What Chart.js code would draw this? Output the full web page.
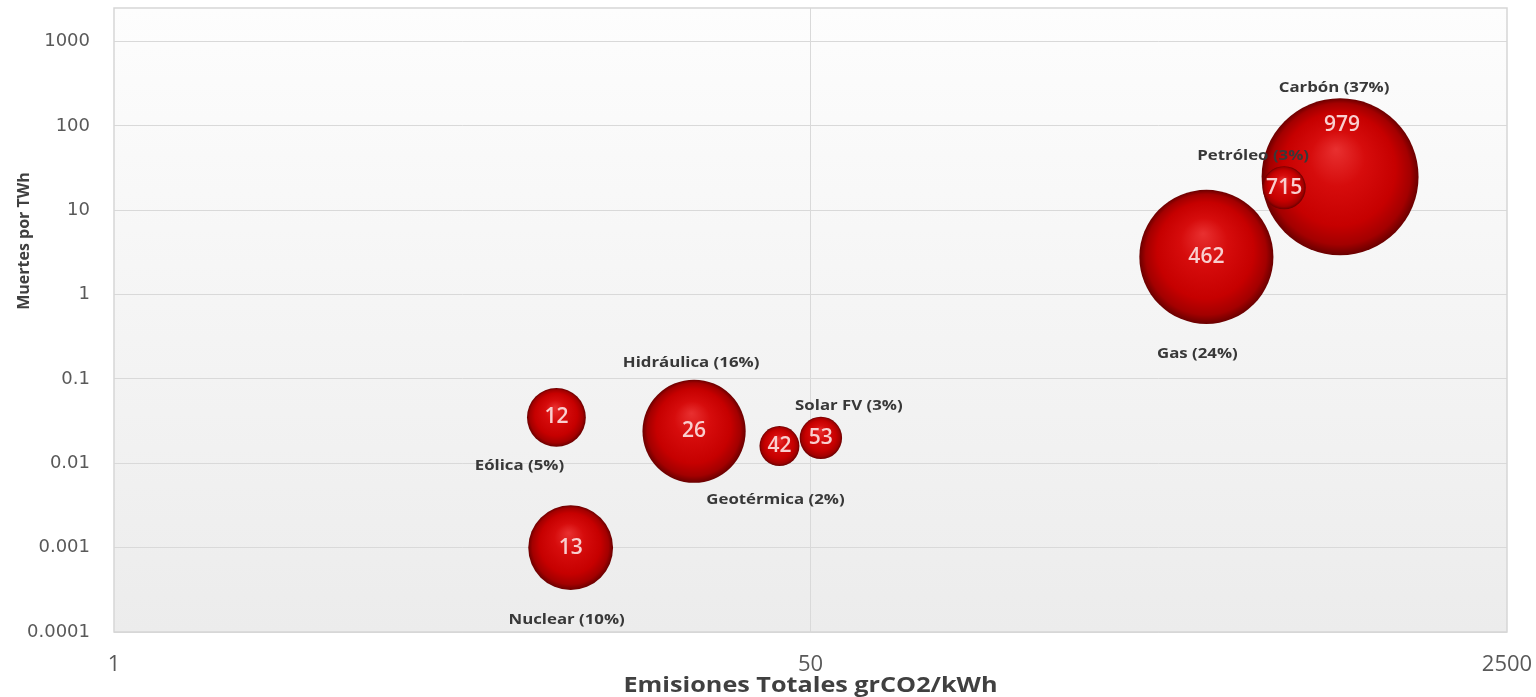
<!DOCTYPE html>
<html>
<head>
<meta charset="utf-8">
<script src="https://cdn.jsdelivr.net/npm/chart.js@4.4.1/dist/chart.umd.min.js"></script>
<style>
  body { margin: 0; background: #ffffff; }
  #wrap { width: 1536px; height: 697px; }
</style>
</head>
<body>
<div id="wrap"><canvas id="bubbles" width="1536" height="697"></canvas></div>
<script>
// data (Carbón before Petróleo so the small bubble sits on top)
const sources = ["Eólica", "Nuclear", "Hidráulica", "Geotérmica", "Solar FV", "Gas", "Carbón", "Petróleo"];
const emissions = [12, 13, 26, 42, 53, 462, 979, 715];          // grCO2/kWh (x)
const deaths = [0.035, 0.001, 0.024, 0.016, 0.02, 2.8, 25, 18.5]; // deaths per TWh (y)
const share = [5, 10, 16, 2, 3, 24, 37, 3];                       // % shown in the labels
const bubbleSize = [5.2, 10.8, 16, 2.4, 2.7, 27, 37, 2.8];       // bubble size values (area)

const yTicks = [0.0001, 0.001, 0.01, 0.1, 1, 10, 100, 1000];
const xTicks = [1, 50, 2500];

// label placement relative to the bubble centre (pixels)
const nameOffsets = [[-37, 48], [-4, 72], [-3, -69], [-4, 54], [28, -32], [-9, 97], [-6, -89], [-31, -32]];
const valueOffsets = [[0, 0], [0, 0], [0, 0], [0, 0], [0, 0], [0, 0], [2, -52], [0, 0]];

const SIZE_SCALE = 12.9;

function sphereFill(ctx) {
    const chart = ctx.chart;
    if (!chart.chartArea || ctx.dataIndex === undefined) return "#cc0000";
    const cx = chart.scales.x.getPixelForValue(emissions[ctx.dataIndex]);
    const cy = chart.scales.y.getPixelForValue(deaths[ctx.dataIndex]);
    const r = SIZE_SCALE * Math.sqrt(bubbleSize[ctx.dataIndex]);
    const g = chart.ctx.createRadialGradient(cx - 0.05 * r, cy - 0.35 * r, 0, cx, cy, r);
    g.addColorStop(0, "#e83030");
    g.addColorStop(0.35, "#d60c0c");
    g.addColorStop(0.72, "#c60000");
    g.addColorStop(0.9, "#a30000");
    g.addColorStop(1, "#6a0000");
    return g;
}

// plot background gradient + frame + axis titles
const plotBackground = {
    id: "plotBackground",
    beforeDraw(chart) {
        const { ctx, chartArea: a } = chart;
        const g = ctx.createLinearGradient(0, a.top, 0, a.bottom);
        g.addColorStop(0, "#fdfdfd");
        g.addColorStop(1, "#ececec");
        ctx.save();
        ctx.fillStyle = g;
        ctx.fillRect(a.left, a.top, a.right - a.left, a.bottom - a.top);
        ctx.restore();
    },
    afterDraw(chart) {
        const { ctx, chartArea: a } = chart;
        ctx.save();
        ctx.strokeStyle = "#d6d6d6";
        ctx.lineWidth = 1.5;
        ctx.strokeRect(a.left, a.top, a.right - a.left, a.bottom - a.top);

        ctx.fillStyle = "#404040";
        ctx.textAlign = "center";
        ctx.textBaseline = "middle";
        ctx.font = "bold 21px 'Open Sans'";
        ctx.save();
        ctx.translate((a.left + a.right) / 2, 686);
        ctx.scale(1.2, 1);
        ctx.fillText("Emisiones Totales grCO2/kWh", 0, 0);
        ctx.restore();
        ctx.font = "bold 16px 'Open Sans'";
        ctx.translate(24, 241);
        ctx.rotate(-Math.PI / 2);
        ctx.fillText("Muertes por TWh", 0, 0);
        ctx.restore();
    }
};

// names above/below bubbles and values inside
const bubbleLabels = {
    id: "bubbleLabels",
    afterDatasetsDraw(chart) {
        const { ctx } = chart;
        const meta = chart.getDatasetMeta(0);
        ctx.save();
        ctx.textAlign = "center";
        ctx.textBaseline = "middle";
        meta.data.forEach((pt, i) => {
            ctx.font = "600 21px 'Open Sans'";
            ctx.fillStyle = "#f9cfcf";
            ctx.fillText(String(emissions[i]), pt.x + valueOffsets[i][0], pt.y + valueOffsets[i][1]);
        });
        meta.data.forEach((pt, i) => {
            ctx.save();
            ctx.translate(pt.x + nameOffsets[i][0], pt.y + nameOffsets[i][1]);
            ctx.scale(1.12, 1);
            ctx.font = "bold 15px 'Open Sans'";
            ctx.fillStyle = "#383838";
            ctx.fillText(`${sources[i]} (${share[i]}%)`, 0, 0);
            ctx.restore();
        });
        ctx.restore();
    }
};

new Chart(document.getElementById("bubbles"), {
    type: "bubble",
    data: {
        datasets: [{
            label: "Fuentes",
            data: sources.map((s, i) => ({ x: emissions[i], y: deaths[i], r: SIZE_SCALE * Math.sqrt(bubbleSize[i]) })),
            backgroundColor: sphereFill,
            borderWidth: 0,
            hoverRadius: 0
        }]
    },
    options: {
        responsive: false,
        animation: false,
        layout: { autoPadding: false, padding: { left: 0, right: 29, top: 8, bottom: 0 } },
        plugins: {
            legend: { display: false },
            tooltip: { enabled: false }
        },
        scales: {
            x: {
                type: "logarithmic",
                min: 1,
                max: 2500,
                afterBuildTicks: (scale) => { scale.ticks = xTicks.map((v) => ({ value: v })); },
                afterFit: (scale) => {
                    scale.height = 65;
                    scale.paddingLeft = 0;
                    scale.paddingRight = 0;
                },
                ticks: {
                    padding: 20,
                    color: "#595959",
                    font: { family: "Open Sans", size: 22 },
                    maxRotation: 0,
                    callback: (v) => String(v)
                },
                grid: {
                    drawTicks: false,
                    color: (c) => (c.tick && c.tick.value === 50 ? "#d9d9d9" : "rgba(0,0,0,0)")
                },
                border: { display: false }
            },
            y: {
                type: "logarithmic",
                min: 0.0001,
                max: 2500,
                afterBuildTicks: (scale) => { scale.ticks = yTicks.map((v) => ({ value: v })); },
                afterFit: (scale) => {
                    scale.width = 114;
                    scale.paddingTop = 0;
                    scale.paddingBottom = 0;
                },
                ticks: {
                    padding: 24,
                    color: "#595959",
                    font: { family: "DejaVu Sans", size: 18 },
                    callback: (v) => String(v)
                },
                grid: {
                    drawTicks: false,
                    color: "#d9d9d9"
                },
                border: { display: false }
            }
        }
    },
    plugins: [plotBackground, bubbleLabels]
});
</script>
</body>
</html>
